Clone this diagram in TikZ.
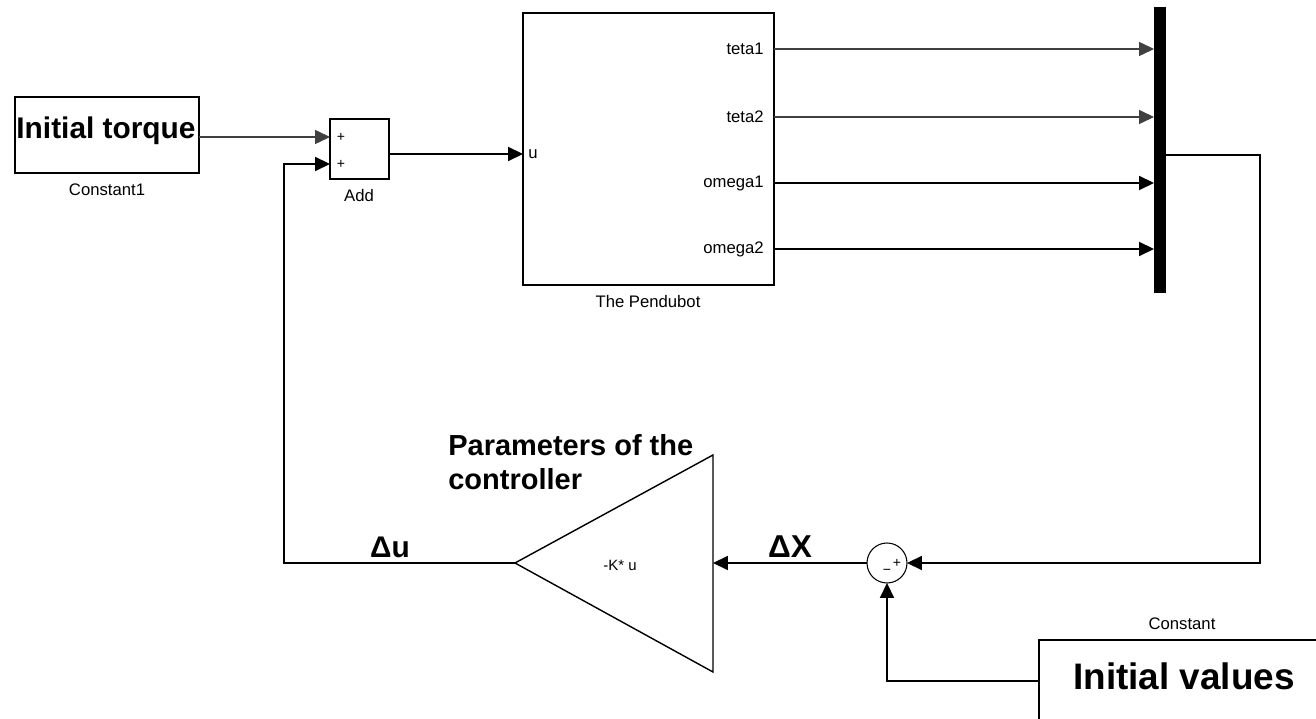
\documentclass[tikz,border=0pt]{standalone}
\usepackage{fontspec}
\setmainfont{Liberation Sans}
\usetikzlibrary{arrows.meta}
\begin{document}
\begin{tikzpicture}[x=0.02cm,y=-0.02cm,
  blk/.style={draw, line width=0.8pt, inner sep=0pt, outer sep=0pt},
  wire/.style={line width=0.9pt},
  thinwire/.style={line width=0.6pt, draw=black!75},
  sig/.style={-{Triangle[length=8.5pt,width=8pt]}},
  small/.style={font=\fontsize{9.5}{11}\selectfont, inner sep=0pt},
  tiny/.style={font=\fontsize{8}{9}\selectfont, inner sep=0pt},
  big/.style={font=\bfseries\fontsize{17}{19}\selectfont, inner sep=0pt}]
\clip (0,0) rectangle (1316,719);
\fill[white] (0,0) rectangle (1316,719);

% blocks
\node[blk, minimum width=3.68cm, minimum height=1.52cm] (c1) at (107,135) {};
\node[big] (c1t) at (106,131) {Initial torque};
\node[small] (c1l) at (107,190) {Constant1};

\node[blk, minimum width=1.18cm, minimum height=1.2cm] (add) at (359.5,149) {};
\node[tiny] (ap1) at (341,137) {+};
\node[tiny] (ap2) at (341,164) {+};
\node[small] (addl) at (359,196) {Add};

\node[blk, minimum width=5.02cm, minimum height=5.44cm] (pend) at (648.5,149) {};
\node[small, anchor=west] (pu) at (528,154) {u};
\node[small, anchor=east] (t1) at (764,49) {teta1};
\node[small, anchor=east] (t2) at (764,117) {teta2};
\node[small, anchor=east] (o1) at (764,183) {omega1};
\node[small, anchor=east] (o2) at (764,249) {omega2};
\node[small] (pl) at (648,302) {The Pendubot};

\node[fill=black, inner sep=0pt, outer sep=0pt, minimum width=0.24cm, minimum height=5.72cm] (bus) at (1160,150) {};

\node[draw, circle, line width=0.6pt, inner sep=0pt, outer sep=0pt, minimum size=0.8cm] (sum) at (887,563) {};
\node[tiny] (sp) at (897,563) {+};
\node[tiny] (sm) at (887,572) {−};

\draw[blk] (713,455) -- (713,672) -- (515,563) -- cycle;
\coordinate (gin) at (713,563);
\coordinate (gout) at (515,563);
\node[font=\fontsize{8.5}{10}\selectfont, inner sep=0pt] (gk) at (620,565) {-K* u};
\node[big, anchor=base west, align=left, font=\bfseries\fontsize{16.5}{19.5}\selectfont] (par) at (448,490) {Parameters of the\\controller};

\node[blk, anchor=north west, minimum width=5.9cm, minimum height=1.8cm] (iv) at (1039,640) {};
\node[big, font=\bfseries\fontsize{21}{24}\selectfont] (ivt) at (1184,676) {Initial values};
\node[small] (ivl) at (1182,624) {Constant};

\node[big] (du) at (390,547) {Δu};
\node[big, font=\bfseries\fontsize{18}{20}\selectfont] (dx) at (790,547) {ΔX};

% port coordinates
\coordinate (ain1) at (330,137);
\coordinate (ain2) at (330,164);
\coordinate (aout) at (389,154);
\coordinate (pin) at (523,154);
\foreach \n/\y in {1/49,2/117,3/183,4/249} {
  \coordinate (po\n) at (774,\y);
  \coordinate (bi\n) at (1154,\y);
}
\coordinate (bout) at (1166,155);
\coordinate (ivout) at (1039,681);

% connectors
\draw[thinwire, sig] (c1.east |- ain1) -- (ain1);
\draw[wire, sig] (aout) -- (pin);
\draw[thinwire, sig] (po1) -- (bi1);
\draw[thinwire, sig] (po2) -- (bi2);
\draw[wire, sig] (po3) -- (bi3);
\draw[wire, sig] (po4) -- (bi4);
\draw[wire, sig] (bout) -- (1260,155) -- (1260,563) -- (sum.east);
\draw[wire, sig] (ivout) -- (887,681) -- (sum.south);
\draw[wire, sig] (sum.west) -- (gin);
\draw[wire, sig] (gout) -- (284,563) -- (284,164) -- (ain2);
\end{tikzpicture}
\end{document}
